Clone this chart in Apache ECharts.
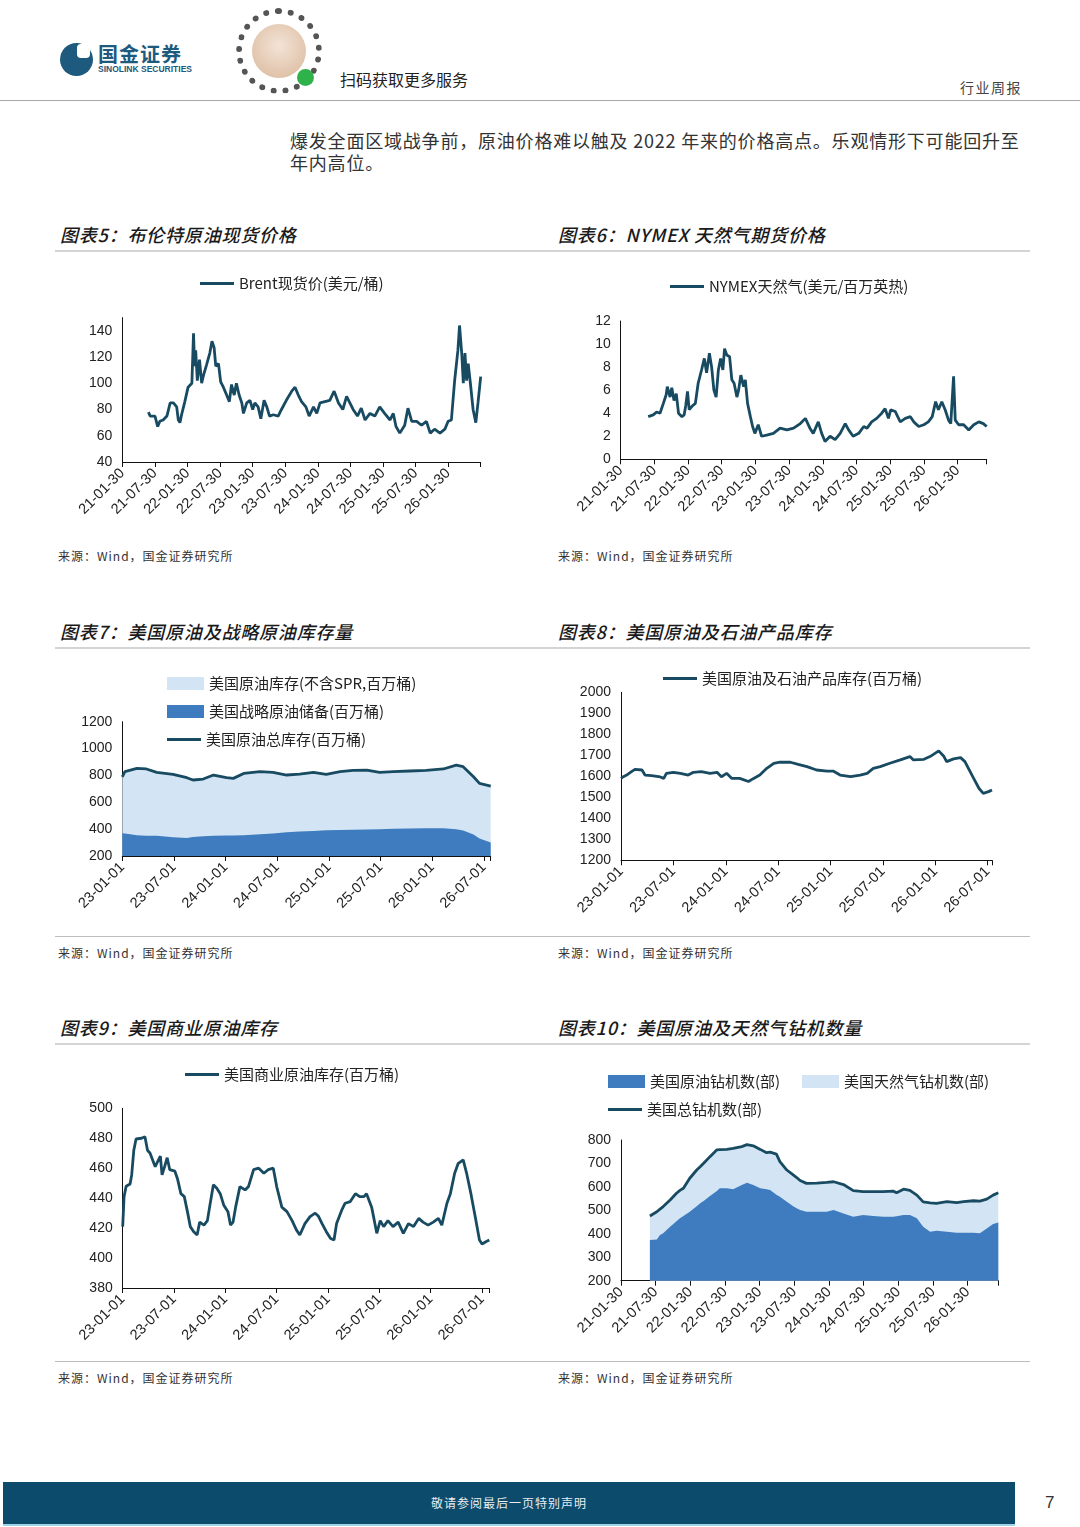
<!DOCTYPE html>
<html><head><meta charset="utf-8">
<script src="https://cdn.jsdelivr.net/npm/echarts/dist/echarts.min.js"></script>
<style>
html,body{margin:0;padding:0;background:#fff;}
body{width:1080px;height:1527px;position:relative;overflow:hidden;font-family:"Noto Sans CJK SC","Liberation Sans",sans-serif;color:#222;}
.abs{position:absolute;}
.title{position:absolute;font-size:18px;font-style:italic;font-weight:500;letter-spacing:0.8px;white-space:nowrap;color:#1a1a1a;line-height:24px;}
.src{position:absolute;font-size:12px;letter-spacing:1px;white-space:nowrap;color:#333;line-height:16px;}
.hline{position:absolute;height:0;}
.chart{position:absolute;}
</style></head><body>

<!-- header -->
<div class="abs" style="left:60px;top:43px;width:33px;height:33px;border-radius:50%;background:#1d5a7e;"></div>
<div class="abs" style="left:77px;top:44px;width:13px;height:14px;border-radius:4px;background:#fff;"></div>
<div class="abs" style="left:98px;top:41px;font-size:20px;font-weight:700;color:#1d5a7e;letter-spacing:1px;line-height:26px;white-space:nowrap;">国金证券</div>
<div class="abs" style="left:98px;top:64px;font-size:8.5px;font-weight:700;color:#1d5a7e;font-family:'Liberation Sans',sans-serif;line-height:11px;white-space:nowrap;">SINOLINK SECURITIES</div>
<div class="abs" style="left:236px;top:8px;width:74px;height:74px;border-radius:50%;border:6px dotted #555;"></div>
<div class="abs" style="left:252px;top:24px;width:54px;height:54px;border-radius:50%;background:radial-gradient(circle at 50% 40%,#f3e3d6,#d9b79a);"></div>
<div class="abs" style="left:297px;top:69px;width:17px;height:17px;border-radius:50%;background:#2fb24a;"></div>
<div class="abs" style="left:340px;top:68px;font-size:16px;line-height:22px;white-space:nowrap;color:#222;">扫码获取更多服务</div>
<div class="abs" style="left:960px;top:78px;font-size:14px;letter-spacing:1.5px;line-height:18px;white-space:nowrap;color:#444;">行业周报</div>
<div class="hline" style="left:0;top:100px;width:1080px;border-top:1px solid #a8a8a8;"></div>

<!-- paragraph -->
<div class="abs" style="left:290px;top:129px;font-size:18px;letter-spacing:0.8px;line-height:22px;white-space:nowrap;color:#333;">爆发全面区域战争前，原油价格难以触及 2022 年来的价格高点。乐观情形下可能回升至</div>
<div class="abs" style="left:290px;top:151px;font-size:18px;letter-spacing:0.8px;line-height:22px;white-space:nowrap;color:#333;">年内高位。</div>

<!-- row 1 -->
<div class="title" style="left:60px;top:222px;">图表5：布伦特原油现货价格</div>
<div class="title" style="left:558px;top:222px;">图表6：NYMEX 天然气期货价格</div>
<div class="hline" style="left:55px;top:250px;width:975px;border-top:2px solid #d4d4d4;"></div>
<div id="c5" class="chart" style="left:55px;top:262px;width:475px;height:283px;"></div>
<div id="c6" class="chart" style="left:555px;top:262px;width:475px;height:283px;"></div>
<div class="src" style="left:58px;top:548px;">来源：Wind，国金证券研究所</div>
<div class="src" style="left:558px;top:548px;">来源：Wind，国金证券研究所</div>

<!-- row 2 -->
<div class="title" style="left:60px;top:619px;">图表7：美国原油及战略原油库存量</div>
<div class="title" style="left:558px;top:619px;">图表8：美国原油及石油产品库存</div>
<div class="hline" style="left:55px;top:647px;width:975px;border-top:2px solid #d4d4d4;"></div>
<div id="c7" class="chart" style="left:55px;top:655px;width:475px;height:280px;"></div>
<div id="c8" class="chart" style="left:555px;top:655px;width:475px;height:280px;"></div>
<div class="hline" style="left:55px;top:936px;width:975px;border-top:1px solid #bdbdbd;"></div>
<div class="src" style="left:58px;top:945px;">来源：Wind，国金证券研究所</div>
<div class="src" style="left:558px;top:945px;">来源：Wind，国金证券研究所</div>

<!-- row 3 -->
<div class="title" style="left:60px;top:1015px;">图表9：美国商业原油库存</div>
<div class="title" style="left:558px;top:1015px;">图表10：美国原油及天然气钻机数量</div>
<div class="hline" style="left:55px;top:1043px;width:975px;border-top:2px solid #d4d4d4;"></div>
<div id="c9" class="chart" style="left:55px;top:1050px;width:475px;height:305px;"></div>
<div id="c10" class="chart" style="left:555px;top:1050px;width:475px;height:305px;"></div>
<div class="hline" style="left:55px;top:1361px;width:975px;border-top:1px solid #bdbdbd;"></div>
<div class="src" style="left:58px;top:1370px;">来源：Wind，国金证券研究所</div>
<div class="src" style="left:558px;top:1370px;">来源：Wind，国金证券研究所</div>

<!-- footer -->
<div class="abs" style="left:3px;top:1482px;width:1012px;height:42px;background:#0c4b6b;border-bottom:2px solid #9fd3e6;"></div>
<div class="abs" style="left:3px;top:1494px;width:1012px;text-align:center;font-size:12px;line-height:18px;color:#e8eef2;letter-spacing:1px;">敬请参阅最后一页特别声明</div>
<div class="abs" style="left:1045px;top:1492px;font-size:17px;line-height:22px;color:#333;font-family:'Liberation Sans',sans-serif;">7</div>

<script>
// ---------- tick labels ----------
var labels21 = ['21-01-30','21-07-30','22-01-30','22-07-30','23-01-30','23-07-30','24-01-30','24-07-30','25-01-30','25-07-30','26-01-30'];
var labels23 = ['23-01-01','23-07-01','24-01-01','24-07-01','25-01-01','25-07-01','26-01-01','26-07-01'];

// ---------- Chart 5: Brent (x = months since 21-01-30) ----------
var brentMonth = [4.8,5.1,6.0,6.5,6.9,7.5,8.2,8.8,9.4,9.7,10.0,10.3,10.6,10.9,11.5,12.1,12.8,13.1,13.3,13.5,13.8,14.2,14.6,15.0,15.5,16.1,16.5,16.9,17.2,17.7,18.1,18.6,19.2,19.7,20.1,20.6,21.0,21.5,22.0,22.3,22.9,23.5,24.0,24.4,25.0,25.5,26.1,26.6,27.1,27.8,28.7,29.3,30.2,31.2,31.8,32.4,33.0,33.8,34.4,35.2,35.8,36.4,37.3,38.2,39.0,39.8,40.6,41.3,41.9,42.5,43.3,44.0,44.7,45.6,46.5,47.4,48.3,49.3,49.9,50.4,51.1,52.0,52.6,53.3,54.2,55.1,56.0,56.7,57.5,58.5,59.4,60.0,60.6,61.2,61.8,62.1,62.5,62.8,63.1,63.4,63.7,64.1,64.6,65.1,65.5,66.0];
var brentValue = [78,75,75,67,71,72,75,85,85,84,82,72,70,76,86,97,100,138,113,125,102,118,100,107,114,123,132,127,113,115,101,97,91,86,99,91,100,91,85,77,85,87,80,85,82,73,87,82,75,76,75,80,87,94,97,91,86,82,75,82,77,85,86,87,94,85,80,90,85,80,75,81,72,77,75,82,77,72,77,67,62,68,81,71,71,68,71,62,65,62,65,71,72,102,125,144,123,100,123,102,115,100,80,70,85,105];

// ---------- Chart 6: NYMEX natural gas ----------
var gasMonth = [4.9,5.8,6.4,7.0,7.6,8.1,8.3,8.8,9.1,9.5,9.9,10.3,10.9,11.3,11.6,11.9,12.2,12.7,13.3,13.8,14.4,14.9,15.3,15.8,16.2,16.6,17.0,17.4,17.8,18.2,18.5,18.9,19.4,19.8,20.2,20.7,21.0,21.4,21.9,22.2,22.6,23.1,23.5,23.9,24.5,25.1,26.0,27.2,28.4,29.6,30.8,32.0,32.9,33.7,34.3,35.2,35.8,36.4,37.3,38.2,39.1,40.0,40.6,41.4,42.4,43.3,43.9,44.7,45.6,46.5,47.1,47.7,48.1,48.9,49.8,50.7,51.6,52.2,53.1,54.0,54.8,55.5,56.1,56.6,57.2,57.8,58.4,58.8,59.15,59.3,59.6,60.2,61.1,62.0,62.9,63.8,64.6,65.2];
var gasValue = [3.7,3.85,4.1,4.0,4.85,5.6,6.3,5.4,6.2,5.1,5.7,4.0,3.7,3.85,4.7,5.9,4.3,4.6,4.85,6.6,7.75,8.75,7.5,9.2,8.0,6.0,5.4,7.75,8.75,7.75,9.6,9.05,8.9,6.9,6.6,5.4,6.0,7.3,6.3,6.9,4.85,3.7,2.85,2.25,3.0,2.0,2.1,2.25,2.7,2.55,2.7,3.1,3.55,2.7,2.25,3.25,2.25,1.55,2.0,1.7,2.25,3.1,2.55,2.0,2.25,2.85,2.7,3.25,3.55,4.0,4.4,3.55,4.3,4.15,3.25,3.55,3.7,3.25,2.85,3.0,3.25,3.7,5.0,4.3,5.0,4.3,3.4,3.1,3.2,7.2,3.4,3.0,3.0,2.55,3.0,3.25,3.1,2.85];

// ---------- Chart 7: US crude inventories (x = months since 23-01-01) ----------
var invMonth = [0,0.3,1.7,2.8,4.0,5.9,7.5,8.2,9.4,10.6,12.1,12.9,14.1,16.0,17.5,19.1,20.6,22.2,23.7,25.3,26.8,28.4,29.9,31.5,33.4,35.3,37.3,38.8,39.6,40.8,41.5,42.8];
var sprValue = [369,368,355,351,351,340,334,342,347,351,352,352,355,362,368,376,382,387,391,393,396,398,400,402,405,407,407,400,390,360,330,300];
var exSprValue = [421,460,497,497,472,468,449,424,426,452,431,426,460,466,455,427,428,436,417,435,442,442,423,426,428,431,441,477,475,430,411,421];
var totalInvValue = [790,828,852,848,823,808,783,766,773,803,783,778,815,828,823,803,810,823,808,828,838,840,823,828,833,838,848,877,865,790,741,721];

// ---------- Chart 8: crude + products ----------
var prodMonth = [0,0.27,0.65,1.2,1.6,2.4,2.75,3.5,4.5,4.9,5.2,6.0,6.8,7.7,8.3,9.2,10.2,11.0,11.5,12.1,12.7,13.6,14.6,15.2,15.9,16.7,17.5,18.2,19.4,20.3,21.3,22.4,23.6,24.3,25.1,26.3,27.4,28.2,28.9,29.7,30.8,32.0,33.1,33.5,34.7,35.4,36.4,37.0,37.3,38.1,38.9,39.4,39.8,40.4,41.0,41.5,42.1,42.5];
var prodValue = [1590,1598,1606,1622,1633,1630,1606,1603,1597,1590,1614,1619,1614,1606,1619,1622,1614,1619,1598,1614,1590,1590,1575,1590,1606,1638,1662,1667,1667,1657,1646,1630,1625,1625,1606,1598,1606,1614,1638,1646,1662,1678,1694,1678,1681,1694,1721,1694,1670,1683,1689,1670,1638,1590,1543,1519,1527,1535];

// ---------- Chart 9: commercial crude ----------
var comMonth = [0,0.16,0.4,0.86,1.05,1.3,1.56,2.2,2.6,2.9,3.2,3.8,4.4,4.6,4.9,5.2,5.5,6.1,6.4,6.8,7.2,7.6,7.9,8.3,8.7,9.0,9.5,9.9,10.2,10.6,11.0,11.4,11.8,12.3,12.6,12.9,13.2,13.7,14.3,14.7,15.3,15.9,16.5,17.0,17.6,18.0,18.6,19.2,19.8,20.3,20.7,21.3,21.9,22.5,22.9,23.3,23.8,24.3,24.7,25.0,25.6,26.0,26.6,27.2,27.7,28.2,28.5,29.1,29.7,30.1,30.5,31.0,31.6,32.2,32.8,33.4,34.0,34.6,35.1,35.7,36.3,36.9,37.3,37.9,38.3,38.8,39.2,39.8,40.2,40.7,41.2,41.7,42.0,42.5,42.85];
var comValue = [421,441,448,449.5,455.5,472,479.5,480,481,472,470,461,468,455.5,461,467,459,458,453,443,441,430,421,417.6,415.4,424,422,425,435.5,449,446.6,443,435.5,431,422,424,434,447.7,445.5,447.7,459,460,456.6,459,460,447.7,434,431,425,418.8,415.4,423,427.7,430,427.7,423,417.6,413,412,423,432,436.6,437.7,443,441,441,443,434,416.5,425,421,425,421,424,416.5,423,421,426.5,424,422,424,426.5,422,436.6,443,456.6,463,465.5,456.6,443,427.7,412,409.4,411,412];

// ---------- Chart 10: rig counts (x = months since 21-01-30) ----------
var rigMonth = [5.0,6.2,6.75,7.3,8.5,9.6,10.2,10.8,11.9,13.1,13.7,14.3,15.4,16.6,17.1,18.3,19.4,20.9,21.8,22.9,24.1,25.2,25.8,26.9,27.5,28.7,29.8,30.4,31.0,32.1,33.9,35.6,36.8,38.5,40.2,41.9,43.7,45.4,47.1,47.7,48.9,50.0,51.2,52.3,53.5,54.6,56.4,58.1,59.3,61.0,62.1,63.3,64.4,65.3];
var oilRigs = [374,376,395,402,430,454,466,476,494,518,530,540,561,583,594,594,590,608,618,608,594,590,587,566,558,537,518,509,502,494,494,494,502,487,473,480,476,473,473,475,480,480,466,430,409,413,409,405,405,405,402,423,442,448];
var gasRigs = [102,118,110,114,114,119,119,118,143,154,156,161,168,175,165,166,174,164,162,167,166,156,161,174,150,135,133,131,125,121,122,125,120,123,111,100,104,107,109,100,110,105,99,106,123,117,128,128,132,136,137,125,123,127];
var totalRigs = [476,494,505,516,544,573,585,594,637,672,686,701,729,758,759,760,764,772,780,775,760,746,748,740,708,672,651,640,627,615,616,619,622,610,584,580,580,580,582,575,590,585,565,536,532,530,537,533,537,541,539,548,565,575];

// ---------- styling helpers ----------
var LINE = '#184b62', DARK = '#3f7cbf', LIGHT = '#d3e5f4';
var NUMFONT = 'Liberation Sans';
var CJK = 'Noto Sans CJK SC';
function pairs(xs, ys){ return xs.map(function(x,i){ return [x, ys[i]]; }); }
// stacked pairs: the upper band sits on the lower band
function stackedPairs(xs, lower, upper){ return xs.map(function(x,i){ return [x, lower[i] + upper[i]]; }); }
function xAxisCfg(labels, max){
  return {type:'value', min:0, max:max, interval:6,
    axisLine:{show:true, onZero:false, lineStyle:{color:'#111', width:1}},
    axisTick:{show:true, length:5, lineStyle:{color:'#111'}},
    splitLine:{show:false},
    axisLabel:{rotate:45, fontSize:14.5, color:'#222', fontFamily:NUMFONT, margin:9,
      formatter:function(v){ var i = Math.round(v/6); return (Math.abs(v - i*6) < 1e-6 && i < labels.length) ? labels[i] : ''; }}
  };
}
function yAxisCfg(min, max, step, hideAbove){
  return {type:'value', min:min, max:max, interval:step,
    axisLine:{show:true, lineStyle:{color:'#111', width:1}},
    axisTick:{show:false}, splitLine:{show:false},
    axisLabel:{fontSize:14, color:'#222', fontFamily:NUMFONT, margin:10,
      formatter:function(v){ return (hideAbove != null && v > hideAbove) ? '' : String(v); }}
  };
}
function legendCfg(name, left, top, kind){
  var isLine = kind === 'line';
  return {show:true, left:left, top:top, icon:'rect', itemWidth: isLine ? 34 : 37, itemHeight: isLine ? 3 : 13,
    itemGap:18, data:[name], selectedMode:false,
    textStyle:{fontSize:15, color:'#222', fontFamily:CJK}};
}
function gridCfg(l,t,w,h){ return {left:l, top:t, width:w, height:h, containLabel:false, outerBoundsMode:'none'}; }
function lineSeries(name, data, w){
  return {name:name, type:'line', data:data, symbol:'none', showSymbol:false, smooth:false,
    lineStyle:{color:LINE, width:w||2.8}, itemStyle:{color:LINE}, emphasis:{disabled:true}, z:5};
}
function areaSeries(name, data, color, z){
  return {name:name, type:'line', data:data, symbol:'none', showSymbol:false,
    lineStyle:{width:0, color:color}, itemStyle:{color:color}, areaStyle:{color:color, opacity:1, origin:'start'}, emphasis:{disabled:true}, z:z};
}

// Chart 5
echarts.init(document.getElementById('c5')).setOption({
  animation:false,
  legend: legendCfg('Brent现货价(美元/桶)', 140, 9, 'line'),
  grid: gridCfg(67.4, 55.6, 358.3, 144.4),
  xAxis: xAxisCfg(labels21, 66),
  yAxis: yAxisCfg(40, 150, 20, 140),
  series:[lineSeries('Brent现货价(美元/桶)', pairs(brentMonth, brentValue))]
});

// Chart 6
echarts.init(document.getElementById('c6')).setOption({
  animation:false,
  legend: legendCfg('NYMEX天然气(美元/百万英热)', 110, 12, 'line'),
  grid: gridCfg(65.7, 59, 366, 138.3),
  xAxis: xAxisCfg(labels21, 65.2),
  yAxis: yAxisCfg(0, 12, 2, null),
  series:[lineSeries('NYMEX天然气(美元/百万英热)', pairs(gasMonth, gasValue))]
});

// Chart 7
echarts.init(document.getElementById('c7')).setOption({
  animation:false,
  legend:[
    legendCfg('美国原油库存(不含SPR,百万桶)', 107, 16, 'area'),
    legendCfg('美国战略原油储备(百万桶)', 107, 44, 'area'),
    legendCfg('美国原油总库存(百万桶)', 107, 72, 'line')
  ],
  grid: gridCfg(67.3, 66.7, 368.4, 134.3),
  xAxis: xAxisCfg(labels23, 42.8),
  yAxis: yAxisCfg(200, 1200, 200, null),
  series:[
    areaSeries('美国原油库存(不含SPR,百万桶)', stackedPairs(invMonth, sprValue, exSprValue), LIGHT, 1),
    areaSeries('美国战略原油储备(百万桶)', pairs(invMonth, sprValue), DARK, 2),
    lineSeries('美国原油总库存(百万桶)', pairs(invMonth, totalInvValue))
  ]
});

// Chart 8
echarts.init(document.getElementById('c8')).setOption({
  animation:false,
  legend: legendCfg('美国原油及石油产品库存(百万桶)', 103, 11, 'line'),
  grid: gridCfg(66, 37.3, 371, 168),
  xAxis: xAxisCfg(labels23, 42.5),
  yAxis: yAxisCfg(1200, 2000, 100, null),
  series:[lineSeries('美国原油及石油产品库存(百万桶)', pairs(prodMonth, prodValue))]
});

// Chart 9
echarts.init(document.getElementById('c9')).setOption({
  animation:false,
  legend: legendCfg('美国商业原油库存(百万桶)', 125, 12, 'line'),
  grid: gridCfg(67.7, 58.3, 366.6, 179.7),
  xAxis: xAxisCfg(labels23, 42.85),
  yAxis: yAxisCfg(380, 500, 20, null),
  series:[lineSeries('美国商业原油库存(百万桶)', pairs(comMonth, comValue))]
});

// Chart 10
echarts.init(document.getElementById('c10')).setOption({
  animation:false,
  legend:[
    legendCfg('美国原油钻机数(部)', 48, 19, 'area'),
    legendCfg('美国天然气钻机数(部)', 242, 19, 'area'),
    legendCfg('美国总钻机数(部)', 48, 47, 'line')
  ],
  grid: gridCfg(66, 90, 377.3, 140.7),
  xAxis: xAxisCfg(labels21, 65.3),
  yAxis: yAxisCfg(200, 800, 100, null),
  series:[
    areaSeries('美国天然气钻机数(部)', stackedPairs(rigMonth, oilRigs, gasRigs), LIGHT, 1),
    areaSeries('美国原油钻机数(部)', pairs(rigMonth, oilRigs), DARK, 2),
    lineSeries('美国总钻机数(部)', pairs(rigMonth, totalRigs))
  ]
});
</script>
</body></html>
